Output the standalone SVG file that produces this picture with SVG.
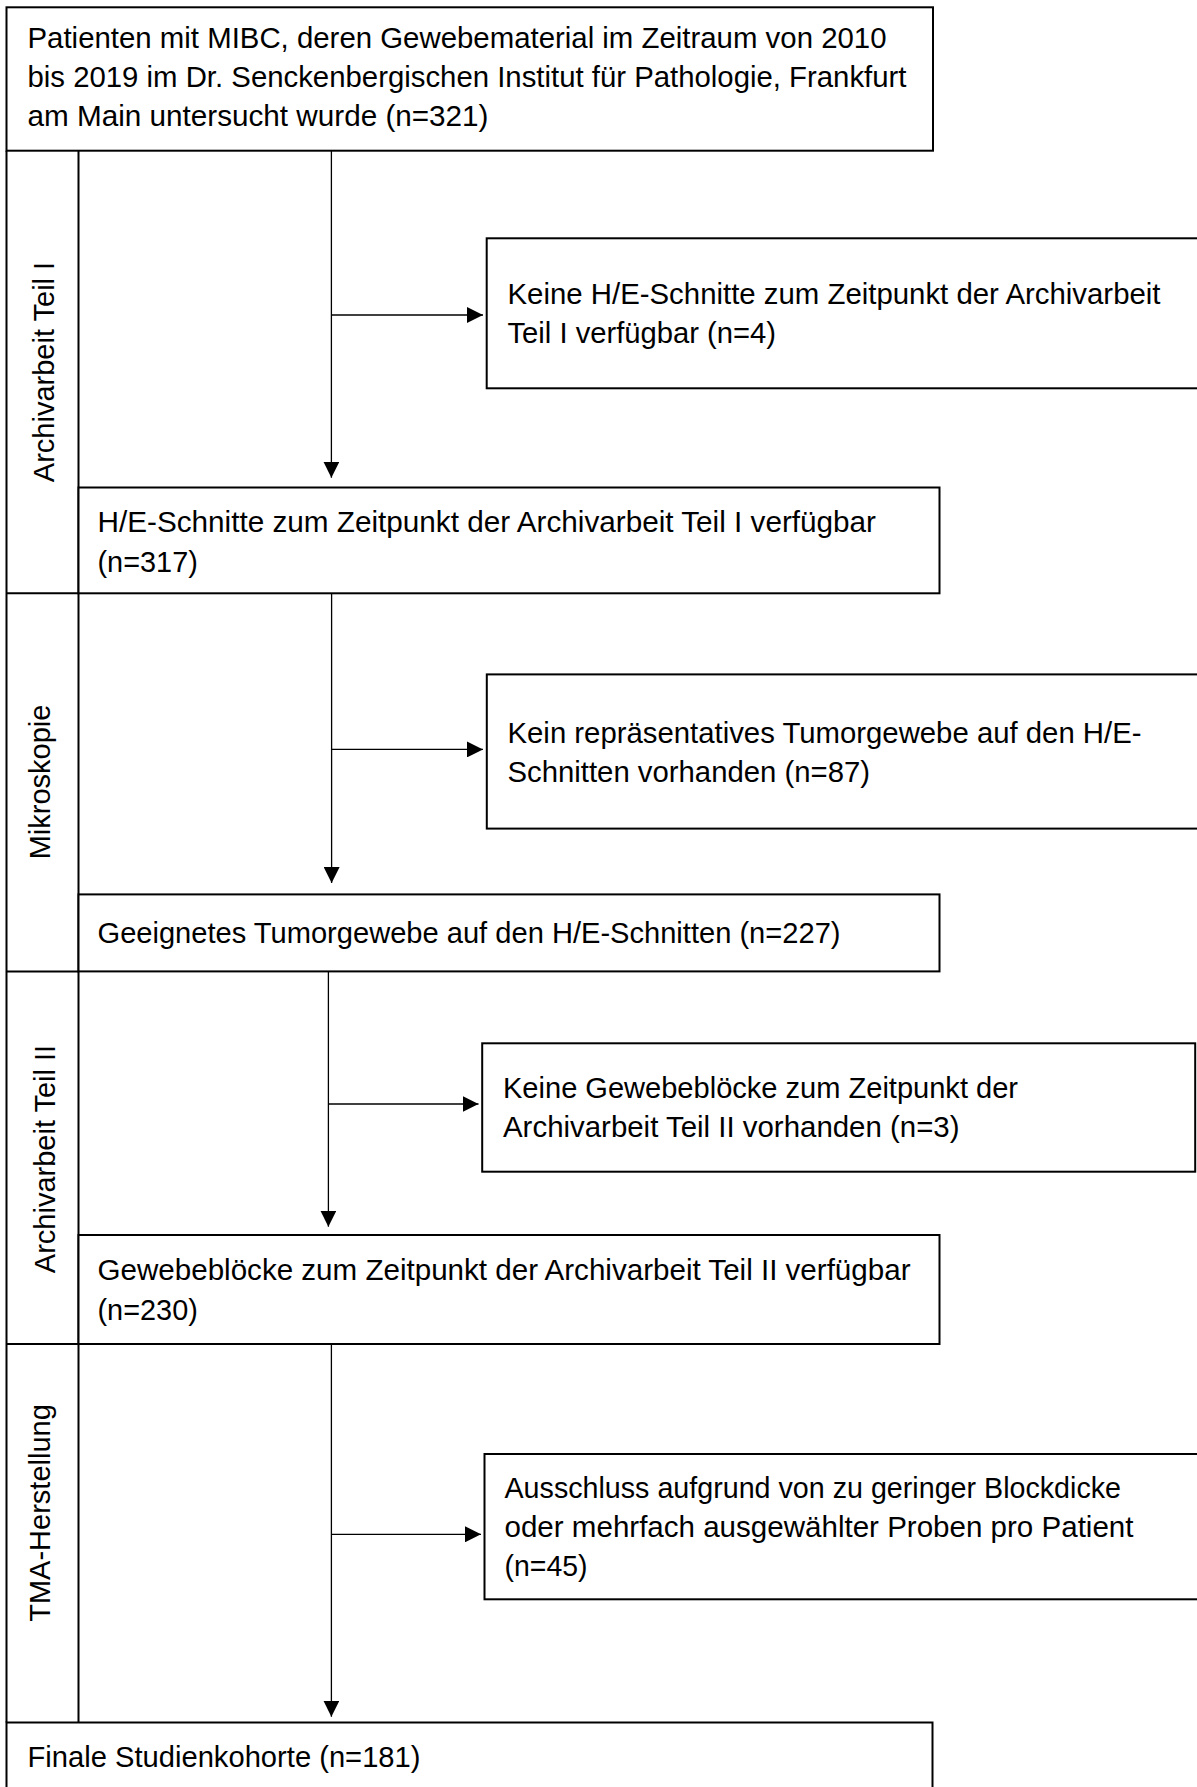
<svg xmlns="http://www.w3.org/2000/svg" width="1197" height="1787" viewBox="0 0 1197 1787">
<style>
.box{fill:#fff;stroke:#000;stroke-width:2}
.lane{fill:none;stroke:#000;stroke-width:2}
.con{fill:none;stroke:#000;stroke-width:1.3}
.t{font-family:"Liberation Sans",Arial,sans-serif;font-size:29px;fill:#000}
.lbl{font-family:"Liberation Sans",Arial,sans-serif;font-size:29px;fill:#000;text-anchor:middle}
</style>
<defs>
<marker id="ah" markerUnits="userSpaceOnUse" markerWidth="16" markerHeight="16" viewBox="0 0 15 15" refX="15" refY="7.5" orient="auto">
<path d="M0,0 L15,7.5 L0,15 Z" fill="#000"/>
</marker>
</defs>
<rect width="1197" height="1787" fill="#fff"/>

<g id="lanes">
<line class="lane" x1="6.5" y1="150.7" x2="6.5" y2="1722.5"/>
<line class="lane" x1="78.5" y1="150.7" x2="78.5" y2="1722.5"/>
<line class="lane" x1="6.5" y1="593.3" x2="78.5" y2="593.3"/>
<line class="lane" x1="6.5" y1="971.4" x2="78.5" y2="971.4"/>
<line class="lane" x1="6.5" y1="1344" x2="78.5" y2="1344"/>
<text class="lbl" transform="translate(54,372) rotate(-90)">Archivarbeit Teil I</text>
<text class="lbl" transform="translate(50,782) rotate(-90)">Mikroskopie</text>
<text class="lbl" transform="translate(55,1159) rotate(-90)">Archivarbeit Teil II</text>
<text class="lbl" transform="translate(49.5,1513) rotate(-90)">TMA-Herstellung</text>
</g>

<g id="connectors">
<line class="con" x1="331.4" y1="150.7" x2="331.4" y2="477.7" marker-end="url(#ah)"/>
<line class="con" x1="331.4" y1="315" x2="483" y2="315" marker-end="url(#ah)"/>
<line class="con" x1="331.6" y1="593.3" x2="331.6" y2="883" marker-end="url(#ah)"/>
<line class="con" x1="331.6" y1="749.4" x2="483" y2="749.4" marker-end="url(#ah)"/>
<line class="con" x1="328.4" y1="971.4" x2="328.4" y2="1226.7" marker-end="url(#ah)"/>
<line class="con" x1="328.4" y1="1104" x2="478.5" y2="1104" marker-end="url(#ah)"/>
<line class="con" x1="331.4" y1="1344" x2="331.4" y2="1716.7" marker-end="url(#ah)"/>
<line class="con" x1="331.4" y1="1534.3" x2="481" y2="1534.3" marker-end="url(#ah)"/>
</g>

<g id="n1">
<rect class="box" x="6.5" y="7.3" width="926.5" height="143.4"/>
<text class="t" x="27.5" y="47.5" textLength="859" lengthAdjust="spacingAndGlyphs">Patienten mit MIBC, deren Gewebematerial im Zeitraum von 2010</text>
<text class="t" x="27.5" y="86.5" textLength="879" lengthAdjust="spacingAndGlyphs">bis 2019 im Dr. Senckenbergischen Institut für Pathologie, Frankfurt</text>
<text class="t" x="27.5" y="125.5" textLength="461" lengthAdjust="spacingAndGlyphs">am Main untersucht wurde (n=321)</text>
</g>

<g id="n2">
<rect class="box" x="486.7" y="238.3" width="720" height="150"/>
<text class="t" x="507.5" y="304" textLength="653" lengthAdjust="spacingAndGlyphs">Keine H/E-Schnitte zum Zeitpunkt der Archivarbeit</text>
<text class="t" x="507.5" y="343" textLength="268.5" lengthAdjust="spacingAndGlyphs">Teil I verfügbar (n=4)</text>
</g>

<g id="n3">
<rect class="box" x="78.5" y="487.5" width="861" height="105.8"/>
<text class="t" x="97.5" y="532" textLength="778.5" lengthAdjust="spacingAndGlyphs">H/E-Schnitte zum Zeitpunkt der Archivarbeit Teil I verfügbar</text>
<text class="t" x="97.5" y="571.5" textLength="100.3" lengthAdjust="spacingAndGlyphs">(n=317)</text>
</g>

<g id="n4">
<rect class="box" x="486.8" y="674.4" width="720" height="154.2"/>
<text class="t" x="507.5" y="742.5" textLength="634" lengthAdjust="spacingAndGlyphs">Kein repräsentatives Tumorgewebe auf den H/E-</text>
<text class="t" x="507.5" y="782" textLength="362.5" lengthAdjust="spacingAndGlyphs">Schnitten vorhanden (n=87)</text>
</g>

<g id="n5">
<rect class="box" x="78.5" y="894.4" width="861" height="77"/>
<text class="t" x="97.5" y="943.4" textLength="743" lengthAdjust="spacingAndGlyphs">Geeignetes Tumorgewebe auf den H/E-Schnitten (n=227)</text>
</g>

<g id="n6">
<rect class="box" x="482.2" y="1043.3" width="713" height="128.4"/>
<text class="t" x="503" y="1098" textLength="515" lengthAdjust="spacingAndGlyphs">Keine Gewebeblöcke zum Zeitpunkt der</text>
<text class="t" x="503" y="1137" textLength="456.5" lengthAdjust="spacingAndGlyphs">Archivarbeit Teil II vorhanden (n=3)</text>
</g>

<g id="n7">
<rect class="box" x="78.5" y="1235" width="861" height="109"/>
<text class="t" x="97.5" y="1280" textLength="813" lengthAdjust="spacingAndGlyphs">Gewebeblöcke zum Zeitpunkt der Archivarbeit Teil II verfügbar</text>
<text class="t" x="97.5" y="1320" textLength="100.3" lengthAdjust="spacingAndGlyphs">(n=230)</text>
</g>

<g id="n8">
<rect class="box" x="484.5" y="1454" width="720" height="145.3"/>
<text class="t" x="504.5" y="1498" textLength="616.5" lengthAdjust="spacingAndGlyphs">Ausschluss aufgrund von zu geringer Blockdicke</text>
<text class="t" x="504.5" y="1537" textLength="629" lengthAdjust="spacingAndGlyphs">oder mehrfach ausgewählter Proben pro Patient</text>
<text class="t" x="504.5" y="1576" textLength="83" lengthAdjust="spacingAndGlyphs">(n=45)</text>
</g>

<g id="n9">
<rect class="box" x="6.5" y="1722.5" width="926" height="100"/>
<text class="t" x="27.5" y="1766.7" textLength="393" lengthAdjust="spacingAndGlyphs">Finale Studienkohorte (n=181)</text>
</g>
</svg>
